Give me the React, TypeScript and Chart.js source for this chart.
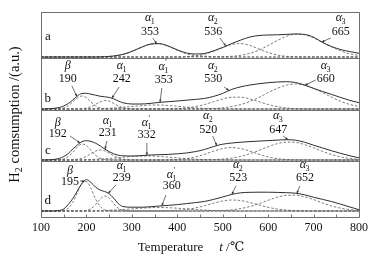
import React, { useEffect, useRef } from 'react';
import { Chart, registerables } from 'chart.js';

Chart.register(...registerables);

// ---- data (temperature grid, °C) ----
const temps = [100, 120, 140, 150, 160, 170, 180, 190, 200, 210, 220, 230, 240, 250, 260, 270, 280, 300, 320, 340, 360, 380, 400, 420, 440, 460, 480, 500, 520, 540, 560, 580, 600, 620, 640, 660, 680, 700, 720, 740, 760, 780, 800];

// panel a
const aTotal = [0, 0, 0, 0, 0, 0, 0, 0, 0, 0, 0, 0.1, 0.3, 0.6, 1.0, 1.7, 2.6, 5.6, 9.5, 12.8, 13.4, 11.0, 7.2, 4.0, 3.0, 3.5, 6.2, 9.5, 13.5, 17.0, 20.0, 21.5, 22.0, 22.2, 22.6, 23.0, 22.6, 19.8, 14.5, 10.4, 7.4, 5.4, 3.7];
const aAlpha1 = [0, 0, 0, 0, 0, 0, 0, 0, 0, 0, 0, 0.1, 0.2, 0.5, 0.9, 1.6, 2.5, 5.6, 9.6, 12.8, 13.3, 10.7, 6.7, 3.3, 1.3, 0.4, 0.1, 0, 0, 0, 0, 0, 0, 0, 0, 0, 0, 0, 0, 0, 0, 0, 0];
const aAlpha2 = [0, 0, 0, 0, 0, 0, 0, 0, 0, 0, 0, 0, 0, 0, 0, 0, 0, 0, 0, 0, 0, 0, 0, 0.4, 0.9, 2.8, 5.8, 9.5, 12.6, 13.4, 11.5, 8.0, 4.5, 2.0, 0.7, 0.2, 0, 0, 0, 0, 0, 0, 0];
const aAlpha3 = [0, 0, 0, 0, 0, 0, 0, 0, 0, 0, 0, 0, 0, 0, 0, 0, 0, 0, 0, 0, 0, 0, 0, 0, 0, 0, 0, 0.3, 0.7, 1.7, 3.7, 6.9, 11.5, 16.4, 20.7, 22.9, 22.2, 19.2, 14.6, 10.0, 6.0, 3.2, 1.5];
const aMinor = [0, 0, 0, 0, 0, 0, 0, 0, 0, 0, 0, 0, 0, 0, 0, 0, 0, 0, 0, 0, 0, 0, 0, 0.2, 0.8, 0.8, 0.2, 0, 0, 0, 0, 0, 0, 0, 0, 0, 0, 0, 0, 0, 0, 0, 0];

// panel b
const bTotal = [0, 0.3, 1.5, 3.0, 5.5, 9.0, 13.0, 15.5, 15.7, 14.8, 13.8, 12.8, 12.2, 11.6, 10.2, 8.0, 6.3, 5.0, 5.0, 5.6, 6.6, 7.3, 8.0, 8.8, 9.6, 10.6, 12.6, 15.6, 19.6, 22.2, 24.0, 25.3, 26.3, 27.0, 27.3, 26.5, 24.0, 20.6, 17.5, 14.5, 11.5, 8.6, 6.3];
const bBeta = [0, 0, 0.3, 1.1, 3.2, 7.1, 11.1, 13.0, 11.1, 7.1, 3.2, 1.1, 0.3, 0, 0, 0, 0, 0, 0, 0, 0, 0, 0, 0, 0, 0, 0, 0, 0, 0, 0, 0, 0, 0, 0, 0, 0, 0, 0, 0, 0, 0, 0];
const bAlpha1 = [0, 0, 0, 0, 0, 0, 0, 0.3, 0.9, 2.4, 4.6, 7.1, 8.5, 7.8, 5.7, 3.1, 1.4, 0.1, 0, 0, 0, 0, 0, 0, 0, 0, 0, 0, 0, 0, 0, 0, 0, 0, 0, 0, 0, 0, 0, 0, 0, 0, 0];
const bAlpha1p = [0, 0, 0, 0, 0, 0, 0, 0, 0.1, 0.1, 0.2, 0.3, 0.5, 0.7, 1.0, 1.3, 1.7, 2.5, 3.3, 3.9, 4.0, 3.5, 2.8, 1.9, 1.1, 0.6, 0.3, 0.1, 0, 0, 0, 0, 0, 0, 0, 0, 0, 0, 0, 0, 0, 0, 0];
const bAlpha2 = [0, 0, 0, 0, 0, 0, 0, 0, 0, 0, 0, 0, 0, 0, 0, 0, 0, 0, 0, 0, 0, 0.1, 0.4, 1.1, 2.4, 4.5, 7.3, 10.0, 11.8, 11.8, 10.0, 7.3, 4.5, 2.4, 1.1, 0.4, 0.1, 0, 0, 0, 0, 0, 0];
const bAlpha3 = [0, 0, 0, 0, 0, 0, 0, 0, 0, 0, 0, 0, 0, 0, 0, 0, 0, 0, 0, 0, 0, 0, 0, 0, 0, 0.2, 0.5, 1.2, 2.5, 4.5, 7.6, 11.7, 16.4, 20.6, 23.8, 25.0, 23.8, 20.6, 16.4, 11.7, 7.6, 4.5, 2.5];

// panel c
const cTotal = [0, 0.2, 1.5, 3.5, 6.5, 11.0, 15.0, 18.3, 19.3, 18.6, 16.8, 14.2, 11.0, 8.3, 6.2, 4.8, 4.2, 4.0, 4.4, 5.0, 5.3, 5.6, 6.2, 7.0, 8.4, 10.5, 13.5, 15.8, 17.0, 17.8, 18.4, 18.9, 19.4, 19.9, 20.3, 19.8, 17.8, 14.8, 12.0, 9.2, 6.6, 4.2, 2.2];
const cBeta = [0, 0, 0.2, 1.1, 3.3, 7.6, 12.8, 15.9, 14.5, 9.7, 4.8, 1.7, 0.5, 0.1, 0, 0, 0, 0, 0, 0, 0, 0, 0, 0, 0, 0, 0, 0, 0, 0, 0, 0, 0, 0, 0, 0, 0, 0, 0, 0, 0, 0, 0];
const cAlpha1 = [0, 0, 0, 0, 0, 0.2, 0.7, 1.8, 3.7, 6.4, 8.8, 10.0, 9.2, 6.9, 4.2, 2.1, 0.8, 0.1, 0, 0, 0, 0, 0, 0, 0, 0, 0, 0, 0, 0, 0, 0, 0, 0, 0, 0, 0, 0, 0, 0, 0, 0, 0];
const cAlpha1p = [0, 0, 0, 0, 0, 0, 0, 0, 0.4, 0.5, 0.7, 1.0, 1.2, 1.5, 1.9, 2.3, 2.7, 3.5, 3.9, 4.0, 3.6, 2.9, 2.1, 1.4, 0.8, 0.4, 0.2, 0.1, 0, 0, 0, 0, 0, 0, 0, 0, 0, 0, 0, 0, 0, 0, 0];
const cAlpha2 = [0, 0, 0, 0, 0, 0, 0, 0, 0, 0, 0, 0, 0, 0, 0, 0, 0, 0, 0, 0, 0, 0.2, 0.5, 1.4, 3.1, 5.7, 8.9, 11.4, 12.5, 11.4, 8.9, 5.7, 3.1, 1.4, 0.5, 0.2, 0, 0, 0, 0, 0, 0, 0];
const cAlpha3 = [0, 0, 0, 0, 0, 0, 0, 0, 0, 0, 0, 0, 0, 0, 0, 0, 0, 0, 0, 0, 0, 0, 0, 0, 0, 0.1, 0.4, 0.9, 1.9, 3.7, 6.3, 9.6, 13.3, 16.3, 17.9, 17.6, 15.4, 12.2, 8.6, 5.4, 3.1, 1.5, 0.7];

// panel d
const dTotal = [0, 0, 0.5, 2.0, 6.5, 12.5, 20.0, 27.5, 31.3, 28.5, 24.0, 21.0, 19.5, 17.3, 12.8, 7.5, 4.5, 3.8, 3.8, 4.2, 5.0, 5.6, 6.4, 7.4, 8.4, 9.6, 11.6, 14.0, 16.6, 18.2, 18.7, 18.8, 18.8, 18.6, 18.3, 17.8, 16.2, 13.8, 11.6, 9.4, 6.8, 4.0, 1.3];
const dBeta = [0, 0, 0.1, 0.7, 2.8, 8.5, 18.2, 27.6, 29.5, 22.5, 12.1, 4.6, 1.2, 0.2, 0, 0, 0, 0, 0, 0, 0, 0, 0, 0, 0, 0, 0, 0, 0, 0, 0, 0, 0, 0, 0, 0, 0, 0, 0, 0, 0, 0, 0];
const dAlpha1 = [0, 0, 0, 0, 0, 0, 0, 0.1, 0.6, 2.3, 6.4, 11.8, 15.0, 12.8, 7.4, 2.9, 0.8, 0, 0, 0, 0, 0, 0, 0, 0, 0, 0, 0, 0, 0, 0, 0, 0, 0, 0, 0, 0, 0, 0, 0, 0, 0, 0];
const dAlpha1p = [0, 0, 0, 0, 0, 0, 0, 0, 0, 0, 0.2, 0.3, 0.5, 0.7, 0.9, 1.1, 1.4, 2.1, 2.8, 3.3, 3.5, 3.3, 2.8, 2.1, 1.4, 0.9, 0.5, 0.2, 0, 0, 0, 0, 0, 0, 0, 0, 0, 0, 0, 0, 0, 0, 0];
const dAlpha2 = [0, 0, 0, 0, 0, 0, 0, 0, 0, 0, 0, 0, 0, 0, 0, 0, 0, 0, 0, 0, 0, 0.3, 0.7, 1.5, 3.1, 5.3, 7.8, 10.0, 11.0, 10.4, 8.5, 6.0, 3.7, 1.9, 0.9, 0.3, 0.1, 0, 0, 0, 0, 0, 0];
const dAlpha3 = [0, 0, 0, 0, 0, 0, 0, 0, 0, 0, 0, 0, 0, 0, 0, 0, 0, 0, 0, 0, 0, 0, 0, 0, 0, 0.1, 0.2, 0.5, 1.2, 2.5, 4.5, 7.4, 10.7, 13.8, 15.6, 15.8, 14.2, 11.4, 8.0, 5.0, 2.8, 1.4, 0.6];

const xTickLabels = ['100', '200', '300', '400', '500', '600', '700', '800'];

// ---- layout / styling ----
const SERIF = "'Liberation Serif', 'DejaVu Serif', 'Noto Sans CJK SC', serif";

const panels = [
  { id: 'ya', letter: 'a', min: -1, max: 45, weight: 4, total: aTotal, parts: [aAlpha1, aAlpha2, aAlpha3, aMinor], letterPos: [115, 20] },
  { id: 'yb', letter: 'b', min: -1, max: 51, weight: 3, total: bTotal, parts: [bBeta, bAlpha1, bAlpha1p, bAlpha2, bAlpha3], letterPos: [115, 10] },
  { id: 'yc', letter: 'c', min: -1, max: 50, weight: 2, total: cTotal, parts: [cBeta, cAlpha1, cAlpha1p, cAlpha2, cAlpha3], letterPos: [115, 9] },
  { id: 'yd', letter: 'd', min: -6, max: 50, weight: 1, total: dTotal, parts: [dBeta, dAlpha1, dAlpha1p, dAlpha2, dAlpha3], letterPos: [115, 10] },
];

const notes = [
  { axis: 'ya', sym: 'α', sub: '1', prime: false, label: '353', tx: 340, gy: 39, ny: 25, fx: 346, fy: 19, tipT: 355 },
  { axis: 'ya', sym: 'α', sub: '2', prime: false, label: '536', tx: 479, gy: 39, ny: 25, fx: 494, fy: 19, tipT: 507 },
  { axis: 'ya', sym: 'α', sub: '3', prime: false, label: '665', tx: 760, gy: 39, ny: 25, fx: 738, fy: 19, tipT: 718 },
  { axis: 'yb', sym: 'β', sub: '', prime: false, label: '190', tx: 159, gy: 43, ny: 30, fx: 168, fy: 23, tipT: 179 },
  { axis: 'yb', sym: 'α', sub: '1', prime: false, label: '242', tx: 278, gy: 43, ny: 30, fx: 272, fy: 22, tipT: 256 },
  { axis: 'yb', sym: 'α', sub: '1', prime: true, label: '353', tx: 370, gy: 42, ny: 29, fx: 366, fy: 21, tipT: 362 },
  { axis: 'yb', sym: 'α', sub: '2', prime: false, label: '530', tx: 479, gy: 43, ny: 30, fx: 503, fy: 22, tipT: 514 },
  { axis: 'yb', sym: 'α', sub: '3', prime: false, label: '660', tx: 727, gy: 43, ny: 30, fx: 705, fy: 29, tipT: 681 },
  { axis: 'yc', sym: 'β', sub: '', prime: false, label: '192', tx: 137, gy: 37, ny: 26, fx: 164, fy: 24, tipT: 186 },
  { axis: 'yc', sym: 'α', sub: '1', prime: false, label: '231', tx: 247, gy: 39, ny: 27, fx: 245, fy: 19, tipT: 241 },
  { axis: 'yc', sym: 'α', sub: '1', prime: true, label: '332', tx: 333, gy: 37, ny: 25, fx: 333, fy: 17, tipT: 333 },
  { axis: 'yc', sym: 'α', sub: '2', prime: false, label: '520', tx: 468, gy: 44, ny: 30, fx: 478, fy: 24, tipT: 487 },
  { axis: 'yc', sym: 'α', sub: '3', prime: false, label: '647', tx: 622, gy: 44, ny: 30, fx: 633, fy: 24, tipT: 644 },
  { axis: 'yd', sym: 'β', sub: '', prime: false, label: '195', tx: 164, gy: 40, ny: 29, fx: 186, fy: 30, tipT: 196 },
  { axis: 'yd', sym: 'α', sub: '1', prime: false, label: '239', tx: 278, gy: 45, ny: 33, fx: 265, fy: 26, tipT: 248 },
  { axis: 'yd', sym: 'α', sub: '1', prime: true, label: '360', tx: 388, gy: 36, ny: 25, fx: 375, fy: 16, tipT: 366 },
  { axis: 'yd', sym: 'α', sub: '2', prime: false, label: '523', tx: 534, gy: 46, ny: 33, fx: 529, fy: 25, tipT: 520 },
  { axis: 'yd', sym: 'α', sub: '3', prime: false, label: '652', tx: 681, gy: 46, ny: 33, fx: 670, fy: 25, tipT: 663 },
];

function valueAt(arr: number[], t: number) {
  for (let i = 0; i < temps.length - 1; i++) {
    if (t >= temps[i] && t <= temps[i + 1]) {
      const f = (t - temps[i]) / (temps[i + 1] - temps[i]);
      return arr[i] + f * (arr[i + 1] - arr[i]);
    }
  }
  return 0;
}

function drawSymbol(ctx: CanvasRenderingContext2D, cx: number, cy: number, sym: string, sub: string, prime: boolean) {
  ctx.font = `italic 12px ${SERIF}`;
  const w1 = ctx.measureText(sym).width;
  ctx.font = `8px ${SERIF}`;
  const w2 = sub ? ctx.measureText(sub).width : 0;
  const x = cx - (w1 + w2) / 2;
  ctx.textAlign = 'left';
  ctx.textBaseline = 'middle';
  ctx.font = `italic 12px ${SERIF}`;
  ctx.fillText(sym, x, cy);
  ctx.font = `8px ${SERIF}`;
  if (sub) ctx.fillText(sub, x + w1 - 0.5, cy + 4);
  if (prime) ctx.fillText('′', x + w1 + 0.5, cy - 4);
}

const framePlugin = {
  id: 'frame',
  afterDatasetsDraw(chart: any) {
    const { ctx, chartArea: ca, scales } = chart;
    ctx.save();
    ctx.strokeStyle = '#707070';
    ctx.lineWidth = 1;
    ctx.beginPath();
    const l = Math.round(ca.left) + 0.5, r = Math.round(ca.right) + 0.5;
    const t = Math.round(ca.top) + 0.5, b = Math.round(ca.bottom) + 0.5;
    ctx.rect(l, t, r - l, b - t);
    for (const p of panels) {
      const s = scales[p.id];
      const y1 = Math.round(s.top) + 0.5;
      const y2 = Math.round(s.bottom) + 0.5;
      ctx.moveTo(l, y1); ctx.lineTo(r, y1);
      ctx.moveTo(l, y2); ctx.lineTo(r, y2);
    }
    const xs = scales.x;
    for (const tk of xs.ticks) {
      const px = Math.round(xs.getPixelForValue(tk.value)) + 0.5;
      ctx.moveTo(px, b); ctx.lineTo(px, b - 3);
    }
    ctx.stroke();
    ctx.restore();
  },
  afterDraw(chart: any) {
    const { ctx, chartArea: ca, scales } = chart;
    const xs = scales.x;
    ctx.save();
    ctx.fillStyle = '#111';
    // panel letters
    for (const p of panels) {
      const ys = scales[p.id];
      ctx.font = `13px ${SERIF}`;
      ctx.textAlign = 'center';
      ctx.textBaseline = 'middle';
      ctx.fillText(p.letter, xs.getPixelForValue(p.letterPos[0]), ys.getPixelForValue(p.letterPos[1]));
    }
    // peak notes
    for (const n of notes) {
      const ys = scales[n.axis];
      const panel = panels.find((p) => p.id === n.axis)!;
      const cx = xs.getPixelForValue(n.tx);
      ctx.fillStyle = '#111';
      drawSymbol(ctx, cx, ys.getPixelForValue(n.gy), n.sym, n.sub, n.prime);
      ctx.font = `12px ${SERIF}`;
      ctx.textAlign = 'center';
      ctx.textBaseline = 'middle';
      ctx.fillText(n.label, cx, ys.getPixelForValue(n.ny));
      const x0 = xs.getPixelForValue(n.fx), y0 = ys.getPixelForValue(n.fy);
      const x1 = xs.getPixelForValue(n.tipT), y1 = ys.getPixelForValue(valueAt(panel.total, n.tipT));
      ctx.strokeStyle = '#333';
      ctx.lineWidth = 0.7;
      ctx.beginPath();
      ctx.moveTo(x0, y0); ctx.lineTo(x1, y1);
      ctx.stroke();
      const ang = Math.atan2(y1 - y0, x1 - x0);
      ctx.beginPath();
      ctx.moveTo(x1, y1);
      ctx.lineTo(x1 - 3 * Math.cos(ang - 0.4), y1 - 3 * Math.sin(ang - 0.4));
      ctx.lineTo(x1 - 3 * Math.cos(ang + 0.4), y1 - 3 * Math.sin(ang + 0.4));
      ctx.closePath();
      ctx.fillStyle = '#333';
      ctx.fill();
    }
    // y title
    ctx.fillStyle = '#111';
    ctx.save();
    ctx.translate(ca.left - 26, (ca.top + ca.bottom) / 2);
    ctx.rotate(-Math.PI / 2);
    ctx.font = `14.5px ${SERIF}`;
    const partH = 'H';
    const part2 = '2';
    const rest = ' comsumption /(a.u.)';
    const wH = ctx.measureText(partH).width;
    const wR = ctx.measureText(rest).width;
    ctx.font = `10px ${SERIF}`;
    const w2 = ctx.measureText(part2).width;
    let x = -(wH + w2 + wR) / 2;
    ctx.textAlign = 'left';
    ctx.textBaseline = 'middle';
    ctx.font = `14.5px ${SERIF}`;
    ctx.fillText(partH, x, 0);
    x += wH;
    ctx.font = `10px ${SERIF}`;
    ctx.fillText(part2, x, 4.5);
    x += w2;
    ctx.font = `14.5px ${SERIF}`;
    ctx.fillText(rest, x, 0);
    ctx.restore();
    // x title
    ctx.font = `13px ${SERIF}`;
    const tA = 'Temperature';
    const wA = ctx.measureText(tA).width;
    ctx.font = `italic 13px ${SERIF}`;
    const tB = 't';
    const wB = ctx.measureText(tB).width;
    ctx.font = `13px ${SERIF}`;
    const tC = ' /℃';
    const wC = ctx.measureText(tC).width;
    const gap = 16;
    let tx = (ca.left + ca.right) / 2 - 9 - (wA + gap + wB + wC) / 2;
    const ty = ca.bottom + 31;
    ctx.textAlign = 'left';
    ctx.textBaseline = 'middle';
    ctx.fillText(tA, tx, ty);
    tx += wA + gap;
    ctx.font = `italic 13px ${SERIF}`;
    ctx.fillText(tB, tx, ty);
    tx += wB;
    ctx.font = `13px ${SERIF}`;
    ctx.fillText(tC, tx, ty);
    ctx.restore();
  },
};

export default function App() {
  const ref = useRef<HTMLCanvasElement | null>(null);
  useEffect(() => {
    if (!ref.current) return;
    Chart.defaults.font.family = SERIF;
    const datasets: any[] = [];
    for (const p of panels) {
      for (const part of p.parts) {
        datasets.push({
          data: temps.map((t, i) => ({ x: t, y: part[i] })),
          yAxisID: p.id,
          borderColor: '#5a5a5a',
          borderWidth: 0.8,
          borderDash: [2.5, 1.8],
          pointRadius: 0,
          cubicInterpolationMode: 'monotone',
          fill: false,
          order: 2,
        });
      }
      datasets.push({
        data: temps.map((t, i) => ({ x: t, y: p.total[i] })),
        yAxisID: p.id,
        borderColor: '#2e2e2e',
        borderWidth: 1,
        pointRadius: 0,
        cubicInterpolationMode: 'monotone',
        fill: false,
        order: 1,
      });
    }
    const yScales: any = {};
    for (const p of panels) {
      yScales[p.id] = {
        type: 'linear',
        position: 'left',
        stack: 'panels',
        stackWeight: p.max - p.min,
        weight: p.weight,
        min: p.min,
        max: p.max,
        grid: { display: false },
        border: { display: false },
        ticks: { display: false },
        afterFit: (s: any) => { s.width = 0; },
      };
    }
    const chart = new Chart(ref.current, {
      type: 'line',
      data: { datasets },
      options: {
        animation: false,
        responsive: false,
        maintainAspectRatio: false,
        layout: { padding: { left: 41, right: 18, top: 12, bottom: 0 } },
        plugins: { legend: { display: false }, tooltip: { enabled: false } },
        scales: {
          x: {
            type: 'linear',
            min: 100,
            max: 800,
            grid: { display: false },
            border: { display: false },
            ticks: {
              stepSize: 50,
              autoSkip: false,
              maxRotation: 0,
              padding: -4,
              color: '#111',
              font: { size: 12, family: SERIF },
              callback: (v: any) => (xTickLabels.includes(String(v)) ? String(v) : ''),
            },
            afterFit: (s: any) => { s.height = 43; },
          },
          ...yScales,
        },
      },
      plugins: [framePlugin],
    });
    return () => chart.destroy();
  }, []);
  return (
    <div style={{ position: 'fixed', left: 0, top: 0, width: 377, height: 260, background: '#fff' }}>
      <canvas ref={ref} width={377} height={260} style={{ width: 377, height: 260 }} />
    </div>
  );
}
